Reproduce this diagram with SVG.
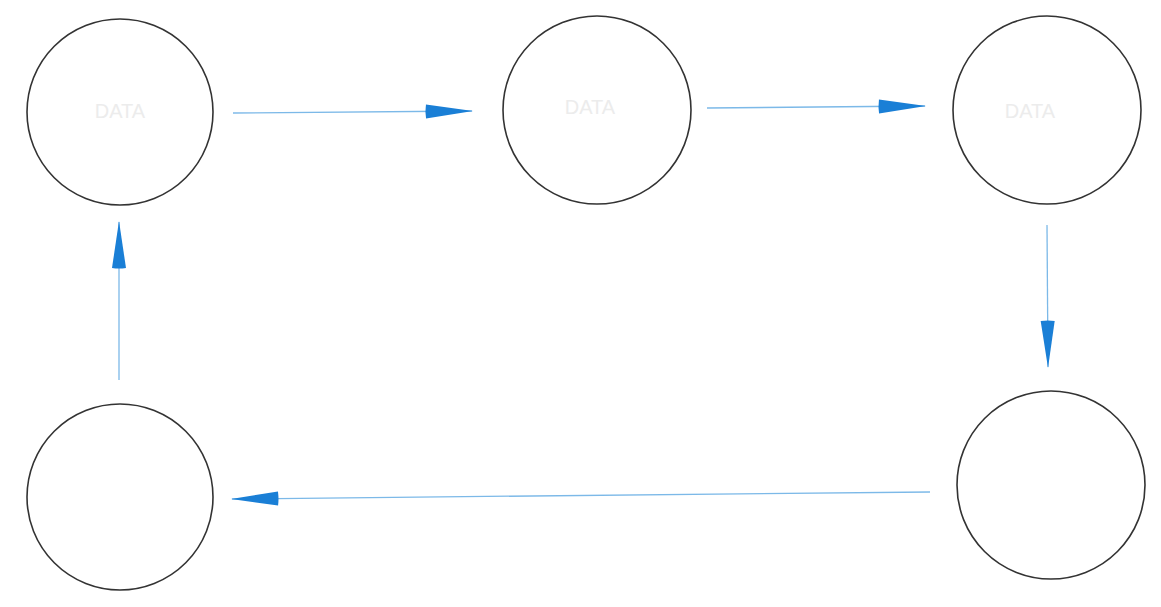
<svg xmlns="http://www.w3.org/2000/svg" width="1161" height="607" viewBox="0 0 1161 607">
<style>
.node circle{fill:#fff;stroke:#333;stroke-width:1.6}
.node text{font-family:"Liberation Sans",Arial,sans-serif;font-size:20px;fill:#ececec;text-anchor:middle}
.conn line{stroke:#7cb9e8;stroke-width:1.3;fill:none}
</style>
<defs>
<marker id="ah" viewBox="0 0 48 16" refX="47" refY="8" markerWidth="48" markerHeight="16" markerUnits="userSpaceOnUse" orient="auto">
<path d="M1,1 Q0,8 1,15 L48,8 Z" fill="#1a7fd6"/>
</marker>
</defs>
<rect width="1161" height="607" fill="#fff"/>
<g id="n1" class="node"><circle cx="120" cy="112" r="93"/><text x="120" y="118">DATA</text></g>
<g id="n2" class="node"><circle cx="597" cy="110" r="94"/><text x="590" y="114">DATA</text></g>
<g id="n3" class="node"><circle cx="1047" cy="110" r="94"/><text x="1030" y="118">DATA</text></g>
<g id="n4" class="node"><circle cx="120" cy="497" r="93"/></g>
<g id="n5" class="node"><circle cx="1051" cy="485" r="94"/></g>
<g id="connectors" class="conn">
<line x1="233" y1="113" x2="472" y2="111" marker-end="url(#ah)"/>
<line x1="707" y1="108" x2="925" y2="106" marker-end="url(#ah)"/>
<line x1="1047" y1="225" x2="1048" y2="367" marker-end="url(#ah)"/>
<line x1="930" y1="492" x2="232" y2="499" marker-end="url(#ah)"/>
<line x1="119" y1="380" x2="119" y2="222" marker-end="url(#ah)"/>
</g>
</svg>
